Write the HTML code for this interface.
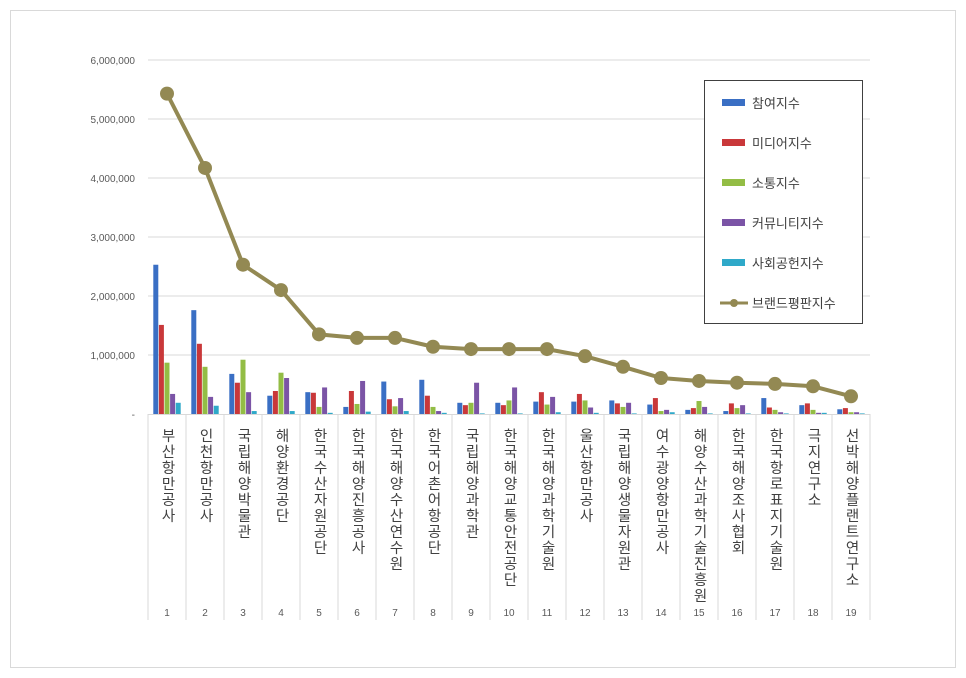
<!DOCTYPE html>
<html><head><meta charset="utf-8"><style>
body{margin:0;background:#fff;}
#wrap{position:relative;width:966px;height:678px;overflow:hidden;font-family:"Liberation Sans","Noto Sans CJK KR",sans-serif;}
.lbl{position:absolute;top:428px;width:20px;writing-mode:vertical-rl;text-orientation:upright;font-size:14.5px;letter-spacing:1.5px;color:#404040;font-family:"Liberation Sans","Noto Sans CJK KR",sans-serif;line-height:20px;}
</style></head><body>
<div id="wrap">
<svg id="chart" width="966" height="678" style="position:absolute;left:0;top:0"></svg>
</div>
<script>
const categories=["부산항만공사","인천항만공사","국립해양박물관","해양환경공단","한국수산자원공단","한국해양진흥공사","한국해양수산연수원","한국어촌어항공단","국립해양과학관","한국해양교통안전공단","한국해양과학기술원","울산항만공사","국립해양생물자원관","여수광양항만공사","해양수산과학기술진흥원","한국해양조사협회","한국항로표지기술원","극지연구소","선박해양플랜트연구소"];
const participation=[2530000,1760000,680000,310000,370000,120000,550000,580000,190000,190000,210000,210000,230000,160000,70000,50000,270000,150000,80000];
const media=[1510000,1190000,530000,390000,360000,390000,250000,310000,150000,150000,370000,340000,180000,270000,100000,180000,110000,180000,100000];
const communication=[870000,800000,920000,700000,120000,170000,130000,120000,190000,230000,160000,230000,120000,50000,220000,100000,70000,70000,30000];
const community=[340000,290000,370000,610000,450000,560000,270000,50000,530000,450000,290000,110000,190000,70000,120000,150000,30000,20000,30000];
const social=[190000,140000,50000,50000,20000,40000,50000,20000,10000,10000,30000,20000,10000,30000,10000,10000,10000,20000,10000];
const brandIndex=[5430000,4170000,2530000,2100000,1350000,1290000,1290000,1140000,1100000,1100000,1100000,980000,800000,610000,560000,530000,510000,470000,300000];
const yTicks=[0,1000000,2000000,3000000,4000000,5000000,6000000];
const seriesNames=["참여지수","미디어지수","소통지수","커뮤니티지수","사회공헌지수","브랜드평판지수"];

const NS="http://www.w3.org/2000/svg";
const svg=document.getElementById('chart');
const wrap=document.getElementById('wrap');
const X0=148,X1=870,Y0=414,Ytop=60,YMAX=6000000;
const cw=(X1-X0)/categories.length;
const y=v=>Y0-(v/YMAX)*(Y0-Ytop);
const xc=i=>X0+cw*(i+0.5);
function mk(t,a){const e=document.createElementNS(NS,t);for(const k in a)e.setAttribute(k,a[k]);svg.appendChild(e);return e;}

let r=mk('rect',{x:10.5,y:10.5,width:945,height:657,fill:'#fff',stroke:'#d9d9d9'});



yTicks.forEach(t=>{
  if(t>0){const g=mk('line',{x1:X0,x2:X1,y1:y(t),y2:y(t),stroke:'#d9d9d9'});
  
  }
  const tx=mk('text',{x:135,y:y(t)+4,'text-anchor':'end','font-size':'10','fill':'#595959'});
  tx.textContent=t===0?'-':t.toLocaleString('en-US');
  
  
});
// category table lines
let ax=mk('line',{x1:X0,x2:X1,y1:Y0+0.5,y2:Y0+0.5,stroke:'#d9d9d9'});


for(let i=0;i<=categories.length;i++){
  const l=mk('line',{x1:X0+cw*i,x2:X0+cw*i,y1:Y0,y2:620,stroke:'#d9d9d9'});
  
  
}
const colors=['#3a6fc4','#c9383a','#93bd45','#7b54a6','#2fa9c9'];
const series=[participation,media,communication,community,social];
const bw=5.6;
categories.forEach((c,i)=>{
  series.forEach((s,k)=>{
    const b=mk('rect',{x:xc(i)-bw*2.5+k*bw+0.3,y:y(s[i]),width:bw-0.6,height:Y0-y(s[i]),fill:colors[k]});
    
    
  });
  const n=mk('text',{x:xc(i),y:616,'text-anchor':'middle','font-size':'10','fill':'#595959'});
  n.textContent=String(i+1);
  
  
  const d=document.createElement('div');
  d.className='lbl';d.style.left=(xc(i)-10)+'px';d.textContent=c;
  
  
  wrap.appendChild(d);
});
const pl=mk('polyline',{points:brandIndex.map((v,i)=>xc(i)+','+y(v)).join(' '),fill:'none',stroke:'#938953','stroke-width':4,'stroke-linejoin':'round'});


brandIndex.forEach((v,i)=>{
  const p=mk('circle',{cx:xc(i),cy:y(v),r:7,fill:'#938953'});
  
  
});
// legend
const lg=mk('rect',{x:704.5,y:80.5,width:158,height:243,fill:'#fff',stroke:'#404040'});


seriesNames.forEach((nm,k)=>{
  const ly=103+k*40;
  if(k<5){const s=mk('rect',{x:722,y:ly-4,width:23,height:7,fill:colors[k]});
    
    }
  else{const s=mk('line',{x1:720,x2:748,y1:ly,y2:ly,stroke:'#938953','stroke-width':3});
    
    
    const c=mk('circle',{cx:734,cy:ly,r:4,fill:'#938953'});
    
    }
  const t=mk('text',{x:752,y:ly+5,'font-size':'13','fill':'#404040'});
  t.textContent=nm;
  
  
});
</script>
</body></html>
